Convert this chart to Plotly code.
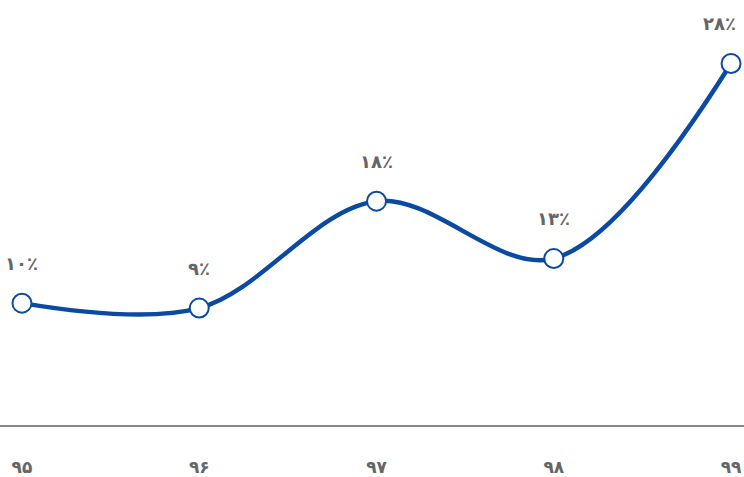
import plotly.graph_objects as go

categories = ["۹۵", "۹۶", "۹۷", "۹۸", "۹۹"]
values = [10.0, 9.63, 17.66, 13.35, 28.0]
labels = ["۱۰٪", "۹٪", "۱۸٪", "۱۳٪", "۲۸٪"]

xs = list(range(len(categories)))

fig = go.Figure()
fig.add_trace(go.Scatter(
    x=xs, y=values, mode="lines+markers",
    line=dict(color="#0b4aa2", width=4.5, shape="spline", smoothing=1.0),
    marker=dict(size=19, color="white", line=dict(color="#0b4aa2", width=2)),
    hoverinfo="skip", cliponaxis=False,
))

for i, (x, v, t) in enumerate(zip(xs, values, labels)):
    last = i == len(xs) - 1
    fig.add_annotation(x=x, y=v, text="<b>" + t + "</b>", showarrow=False, yshift=40,
                       xshift=-12 if last else 0,
                       font=dict(family="DejaVu Sans", size=18, color="#666666"))

fig.update_layout(
    width=744, height=477,
    margin=dict(l=0, r=0, t=2, b=48),
    paper_bgcolor="white", plot_bgcolor="white",
    showlegend=False,
    xaxis=dict(
        range=[-0.124, 4.073], tickmode="array", tickvals=xs,
        ticktext=["<b>" + c + "</b>" for c in categories],
        showline=True, linecolor="#888888", linewidth=2, showgrid=False, zeroline=False,
        ticks="", ticklabelstandoff=26,
        tickfont=dict(family="DejaVu Sans", size=17, color="#666666"),
    ),
    yaxis=dict(range=[0.848, 32.62], visible=False, showgrid=False, zeroline=False),
)

fig.write_html("out.html")
